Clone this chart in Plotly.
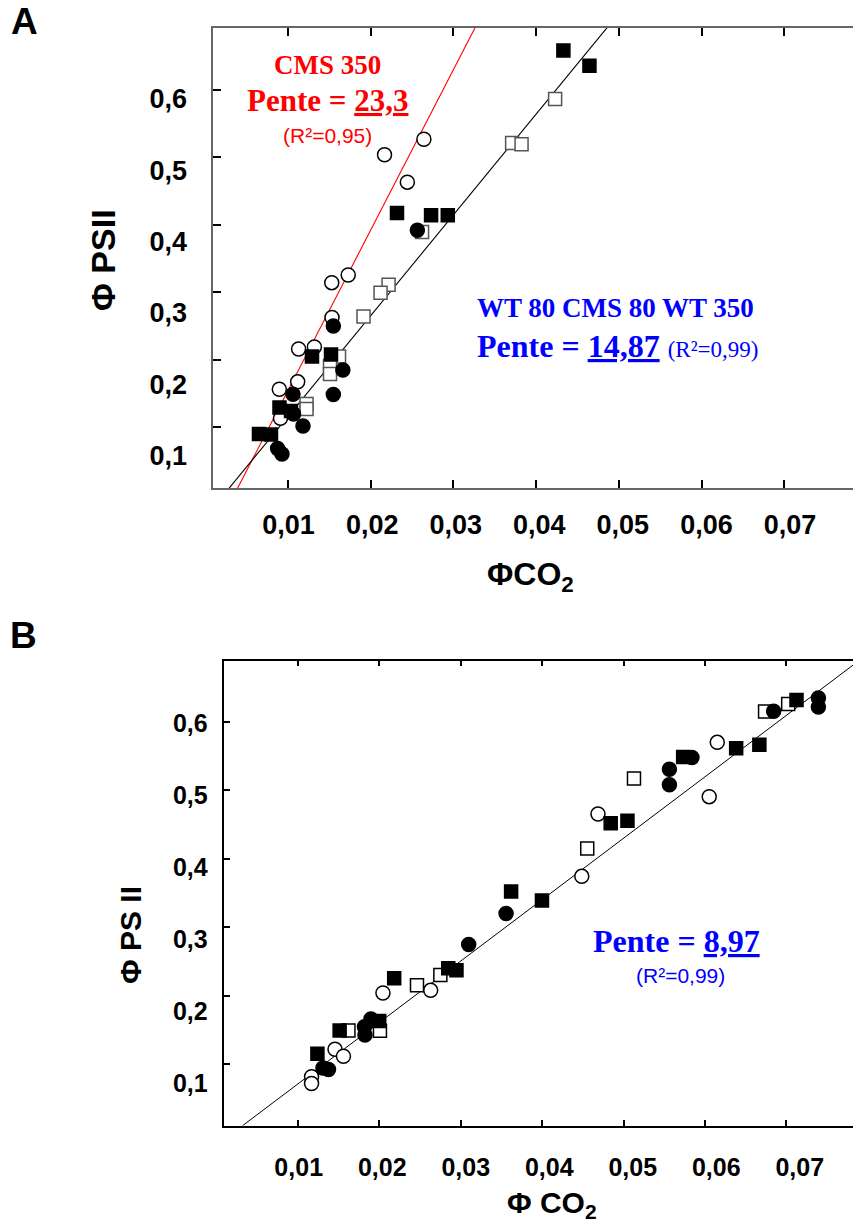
import plotly.graph_objects as go

W, H = 853, 1223

# ---------------- Panel A data (ΦCO2, ΦPSII) ----------------
a_filled_sq_x = [0.0433, 0.04645, 0.02318, 0.0273, 0.02932, 0.0129, 0.0152, 0.00897, 0.01036, 0.00649, 0.00794]
a_filled_sq_y = [0.6583, 0.6356, 0.4173, 0.4139, 0.4139, 0.2045, 0.2075, 0.1289, 0.1237, 0.0896, 0.0889]

a_open_sq_x = [0.0423, 0.0371, 0.03824, 0.02621, 0.02216, 0.02119, 0.01913, 0.01617, 0.01508, 0.01508, 0.01224, 0.01224]
a_open_sq_y = [0.5864, 0.5211, 0.5193, 0.3891, 0.3110, 0.2991, 0.2638, 0.2045, 0.1904, 0.1786, 0.1341, 0.1267]

a_filled_ci_x = [0.02564, 0.01548, 0.01663, 0.01548, 0.01060, 0.01067, 0.01181, 0.00874, 0.00927]
a_filled_ci_y = [0.3917, 0.2498, 0.1845, 0.1482, 0.1486, 0.1193, 0.1015, 0.0681, 0.0600]

a_open_ci_x = [0.02643, 0.02167, 0.02443, 0.01728, 0.01529, 0.01532, 0.01319, 0.01128, 0.01117, 0.00895, 0.00909]
a_open_ci_y = [0.5266, 0.5036, 0.4630, 0.3254, 0.3140, 0.2624, 0.2186, 0.2157, 0.1670, 0.1560, 0.1129]

# regression lines (end points)
a_fit_cms350_x = [0.0035, 0.0330]
a_fit_cms350_y = [-0.0003, 0.7011]
a_fit_all_x = [0.0025, 0.0490]
a_fit_all_y = [0.0036, 0.6983]

# ---------------- Panel B data ----------------
b_filled_ci_x = [0.07393, 0.07393, 0.06843, 0.05840, 0.05563, 0.05563, 0.03557, 0.03098, 0.01818, 0.01898, 0.01824, 0.01308, 0.01376]
b_filled_ci_y = [0.6351, 0.6219, 0.6156, 0.5481, 0.5308, 0.5083, 0.3200, 0.2747, 0.1545, 0.1658, 0.1424, 0.0942, 0.0920]

b_filled_sq_x = [0.07124, 0.06383, 0.06668, 0.05732, 0.04842, 0.05048, 0.03619, 0.03998, 0.02847, 0.02948, 0.02183, 0.01513, 0.01999, 0.01240]
b_filled_sq_y = [0.6322, 0.5615, 0.5668, 0.5488, 0.4519, 0.4557, 0.3522, 0.3390, 0.2399, 0.2370, 0.2253, 0.1490, 0.1629, 0.1151]

b_open_sq_x = [0.07022, 0.06738, 0.05128, 0.04554, 0.02750, 0.02463, 0.01621, 0.02008]
b_open_sq_y = [0.6263, 0.6154, 0.5174, 0.4151, 0.2301, 0.2151, 0.1490, 0.1485]

b_open_ci_x = [0.06151, 0.06052, 0.04686, 0.04487, 0.02631, 0.02045, 0.01456, 0.01560, 0.01168, 0.01168]
b_open_ci_y = [0.5703, 0.4908, 0.4655, 0.3744, 0.2077, 0.2038, 0.1216, 0.1113, 0.0814, 0.0715]

b_fit_x = [0.0032, 0.0790]
b_fit_y = [0.0098, 0.6905]

# ticks
x_tick_vals = [0.01, 0.02, 0.03, 0.04, 0.05, 0.06, 0.07]
x_tick_text = ["0,01", "0,02", "0,03", "0,04", "0,05", "0,06", "0,07"]
y_tick_vals = [0.1, 0.2, 0.3, 0.4, 0.5, 0.6]
y_tick_text = ["0,1", "0,2", "0,3", "0,4", "0,5", "0,6"]


def px_x(p):
    return p / W


def px_y(p):
    return 1 - p / H


fig = go.Figure()


def add_markers(x, y, xa, ya, name, symbol, fill, line_col, size):
    fig.add_trace(go.Scatter(
        x=x, y=y, xaxis=xa, yaxis=ya, mode="markers", name=name,
        marker=dict(symbol=symbol, size=size, color=fill,
                    line=dict(color=line_col, width=1.5)),
        showlegend=False, cliponaxis=False))


def add_label_axis_holder(xa, ya):
    # empty trace that only makes the tick-label axis pair exist
    fig.add_trace(go.Scatter(x=[None], y=[None], xaxis=xa, yaxis=ya, mode="markers",
                             showlegend=False, hoverinfo="skip"))


# Panel A
fig.add_trace(go.Scatter(x=a_fit_cms350_x, y=a_fit_cms350_y, xaxis="x", yaxis="y", mode="lines",
                         line=dict(color="#ff0000", width=1.1), showlegend=False, name="fit CMS 350"))
fig.add_trace(go.Scatter(x=a_fit_all_x, y=a_fit_all_y, xaxis="x", yaxis="y", mode="lines",
                         line=dict(color="black", width=1.1), showlegend=False, name="fit WT80/CMS80/WT350"))
add_markers(a_open_ci_x, a_open_ci_y, "x", "y", "CMS 350", "circle", "white", "black", 14)
add_markers(a_open_sq_x, a_open_sq_y, "x", "y", "WT 350", "square", "white", "#555555", 13)
add_markers(a_filled_sq_x, a_filled_sq_y, "x", "y", "CMS 80", "square", "black", "black", 13)
add_markers(a_filled_ci_x, a_filled_ci_y, "x", "y", "WT 80", "circle", "black", "black", 14)

# Panel B
fig.add_trace(go.Scatter(x=b_fit_x, y=b_fit_y, xaxis="x2", yaxis="y2", mode="lines",
                         line=dict(color="black", width=1), showlegend=False, name="fit"))
add_markers(b_open_ci_x, b_open_ci_y, "x2", "y2", "open circles", "circle", "white", "black", 14)
add_markers(b_open_sq_x, b_open_sq_y, "x2", "y2", "open squares", "square", "white", "black", 13)
add_markers(b_filled_sq_x, b_filled_sq_y, "x2", "y2", "filled squares", "square", "black", "black", 13)
add_markers(b_filled_ci_x, b_filled_ci_y, "x2", "y2", "filled circles", "circle", "black", "black", 14)

add_label_axis_holder("x3", "y")
add_label_axis_holder("x", "y3")
add_label_axis_holder("x4", "y2")
add_label_axis_holder("x2", "y4")

tick_font = dict(family="Liberation Sans, Arial, sans-serif", size=27, color="black", weight="bold")
tick_font_b = dict(family="Liberation Sans, Arial, sans-serif", size=25, color="black", weight="bold")

frame_common = dict(showgrid=False, zeroline=False, showticklabels=False, showline=True,
                    ticks="inside", fixedrange=True)
label_common = dict(ticks="", showline=False, showgrid=False, zeroline=False, fixedrange=True)

fig.update_layout(
    width=W, height=H, margin=dict(l=0, r=0, t=0, b=0),
    paper_bgcolor="white", plot_bgcolor="white",
    # Panel A frame
    xaxis=dict(domain=[px_x(213), 1.0], anchor="y", range=[0.00093, 0.07832],
               tickvals=x_tick_vals, ticklen=8, tickwidth=2, tickcolor="black",
               linecolor="#666666", linewidth=1.5, mirror="ticks", **frame_common),
    yaxis=dict(domain=[px_y(488), px_y(28)], anchor="x", range=[0.00955, 0.6916],
               tickvals=y_tick_vals, ticklen=8, tickwidth=2, tickcolor="black",
               linecolor="#666666", linewidth=1.5, mirror=False, **frame_common),
    # Panel A tick labels
    xaxis3=dict(overlaying="x", anchor="y", side="bottom", range=[0.000954, 0.07754],
                tickvals=x_tick_vals, ticktext=x_tick_text, tickfont=tick_font,
                ticklabelstandoff=18, **label_common),
    yaxis3=dict(overlaying="y", anchor="x", side="left", range=[0.05475, 0.6992],
                tickvals=y_tick_vals, ticktext=y_tick_text, tickfont=tick_font,
                ticklabelstandoff=25, **label_common),
    # Panel B frame
    xaxis2=dict(domain=[px_x(223.7), 1.0], anchor="y2", range=[0.00089, 0.07818],
                tickvals=x_tick_vals, ticklen=6, tickwidth=1.5, tickcolor="black",
                linecolor="black", linewidth=1.5, mirror="ticks", **frame_common),
    yaxis2=dict(domain=[px_y(1125.7), px_y(660.7)], anchor="x2", range=[0.0098, 0.6896],
                tickvals=y_tick_vals, ticklen=7, tickwidth=1.5, tickcolor="black",
                linecolor="black", linewidth=1.5, mirror=False, **frame_common),
    # Panel B tick labels
    xaxis4=dict(overlaying="x2", anchor="y2", side="bottom", range=[0.001018, 0.07638],
                tickvals=x_tick_vals, ticktext=x_tick_text, tickfont=tick_font_b,
                ticklabelstandoff=24, **label_common),
    yaxis4=dict(overlaying="y2", anchor="x2", side="left", range=[0.0407, 0.6865],
                tickvals=y_tick_vals, ticktext=y_tick_text, tickfont=tick_font_b,
                ticklabelstandoff=15, **label_common),
)

SANS = "Liberation Sans, Arial, sans-serif"
SERIF = "Liberation Serif, Times New Roman, serif"


def ann(text, x, y, size, color="black", family=SANS, weight="normal", xanchor="center",
        angle=0):
    fig.add_annotation(text=text, x=px_x(x), y=px_y(y), xref="paper", yref="paper",
                       xanchor=xanchor, yanchor="middle", showarrow=False, textangle=angle,
                       font=dict(size=size, color=color, family=family, weight=weight))


# panel letters
ann("A", 24, 21, 37, weight="bold")
ann("B", 23, 636, 37, weight="bold")

# axis titles
ann("Φ PSII", 103, 260, 34, weight="bold", angle=-90)
ann("ΦCO<sub>2</sub>", 530, 576, 32, weight="bold")
ann("Φ PS II", 130, 935, 30, weight="bold", angle=-90)
ann("Φ CO<sub>2</sub>", 552, 1204, 30, weight="bold")

# Panel A texts
ann("CMS 350", 327, 65, 27, color="#ff0000", family=SERIF, weight="bold")
ann("Pente = <u>23,3</u>", 327, 101, 31, color="#ff0000", family=SERIF, weight="bold")
ann("(R²=0,95)", 327, 136, 21, color="#ff0000")
ann("WT 80 CMS 80 WT 350", 475, 308, 27, color="#0000ff", family=SERIF, weight="bold",
    xanchor="left")
ann("<b>Pente = <u>14,87</u></b> <span style='font-size:23px'>(R²=0,99)</span>", 475, 346, 32,
    color="#0000ff", family=SERIF, xanchor="left")

# Panel B texts
ann("Pente = <u>8,97</u>", 676, 941, 32, color="#0000ff", family=SERIF, weight="bold")
ann("(R²=0,99)", 680, 975, 21, color="#0000ff")

fig.write_html("out.html", config={"displayModeBar": False},
               post_script="document.body.style.margin='0';")
